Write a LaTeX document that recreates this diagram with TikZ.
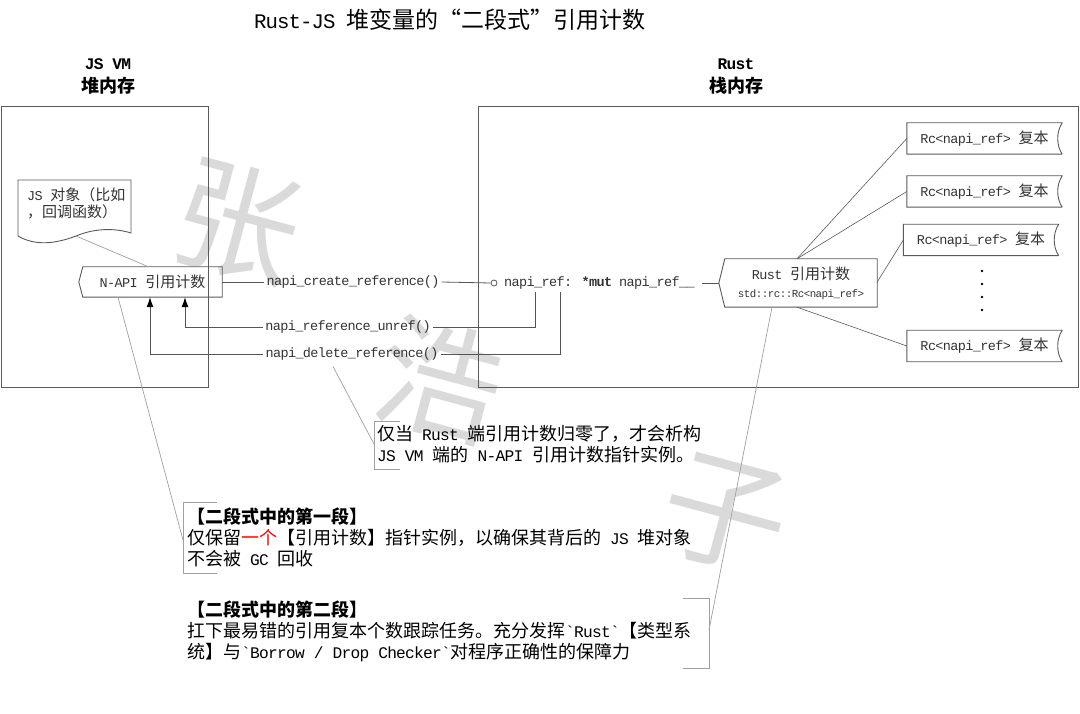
\documentclass[tikz,border=0pt]{standalone}
\usepackage{fontspec}
\usetikzlibrary{arrows.meta,calc}
\setmainfont{Liberation Mono}[Scale=0.9, LetterSpace=-4.5, Ligatures=TeXOff]
\newfontfamily\cjk{Noto Sans CJK SC}
\XeTeXinterchartokenstate=1
\newXeTeXintercharclass\CJKcls
\count255="4E00
\loop \XeTeXcharclass\count255=\CJKcls \ifnum\count255<"9FFF \advance\count255 by 1 \repeat
\count255="3000
\loop \XeTeXcharclass\count255=\CJKcls \ifnum\count255<"303F \advance\count255 by 1 \repeat
\count255="FF00
\loop \XeTeXcharclass\count255=\CJKcls \ifnum\count255<"FFEF \advance\count255 by 1 \repeat
\XeTeXcharclass"201C=\CJKcls
\XeTeXcharclass"201D=\CJKcls
\XeTeXinterchartoks 0 \CJKcls = {\cjk}
\XeTeXinterchartoks 4095 \CJKcls = {\cjk}
\XeTeXinterchartoks \CJKcls 0 = {\rmfamily}
\XeTeXinterchartoks \CJKcls 4095 = {\rmfamily}
\definecolor{boxc}{HTML}{5A5A5A}
\definecolor{linec}{HTML}{555555}
\definecolor{notec}{HTML}{A0A0A0}
\definecolor{txtc}{HTML}{333333}
\definecolor{wmc}{HTML}{DADADA}
\tikzset{
  box/.style={draw=boxc, line width=0.9pt},
  conn/.style={draw=linec, line width=0.8pt},
  arr/.style={conn, -{Latex[length=10pt,width=7pt,fill=black,color=black]}},
  notel/.style={draw=notec, line width=0.7pt},
  lbl/.style={font=\fontsize{15}{17}\selectfont, text=txtc, inner sep=0pt},
  note/.style={font=\fontsize{18}{21}\selectfont, align=left, inner sep=0pt, anchor=west, text=black},
  hdr/.style={font=\fontsize{18}{23}\selectfont\bfseries, align=center, text=black, inner sep=0pt},
  wm/.style={font=\fontsize{125}{125}\selectfont, text=wmc, inner sep=0pt},
}
\begin{document}
\begin{tikzpicture}[x=1pt,y=-1pt]
\useasboundingbox[fill=white] (0,0) rectangle (1080,714);
% watermark
\node[wm, rotate=-15] (wm1) at (238,222) {张};
\node[wm, rotate=-15] (wm2) at (440,380) {浩};
\node[wm, rotate=-15] (wm3) at (725,515) {子};
% title and headers
\node[font=\fontsize{23}{26}\selectfont, text=black, inner sep=0pt] (title) at (450,20) {Rust-JS 堆变量的“二段式”引用计数};
\node[hdr] (hjs) at (108,76) {JS VM\\堆内存};
\node[hdr] (hrust) at (736,76) {Rust\\栈内存};
% containers
\draw[box] (1,106) rectangle (208,387);
\draw[box] (478,106) rectangle (1078,387);
% JS object (document shape)
\draw[box, fill=white] (18,180) -- (131,180) -- (131,233) .. controls (115,228) and (95,228) .. (76,236) .. controls (55,244) and (35,246) .. (18,236) -- cycle;
\node[lbl, align=left, anchor=west, font=\fontsize{15}{17}\selectfont] (jsobj) at (27,203.5) {JS 对象（比如\\，回调函数）};
\coordinate (jsobjb) at (76,236);
% N-API node
\node[lbl, minimum width=139pt, minimum height=30pt] (napi) at (152.5,282) {N-API 引用计数};
\draw[box] (napi.north west) -- (napi.north east) -- (napi.south east) -- (napi.south west) -- ([xshift=-4pt]napi.west) -- cycle;
\draw[notel] (jsobjb) -- ([xshift=-4pt]napi.north);
% labels on connectors
\node[lbl] (lcreate) at (353,282) {napi\_create\_reference()};
\node[lbl] (lunref) at (348,327) {napi\_reference\_unref()};
\node[lbl] (ldelete) at (352,354) {napi\_delete\_reference()};
\node[circle, draw=linec, line width=0.8pt, inner sep=0pt, minimum size=6pt] (circ) at (494,283) {};
\node[lbl, anchor=west] (nref) at (504,283) {napi\_ref: \textbf{*mut} napi\_ref\_\_};
\coordinate (ua) at (535,292);
\coordinate (da) at (560,292);
\draw[conn] (napi.east) -- ([xshift=-2pt]lcreate.west);
\draw[conn] ([xshift=2pt]lcreate.east) -- (circ.west);
\draw[conn] (ua) |- ([xshift=2pt]lunref.east);
\draw[arr] ([xshift=-2pt]lunref.west) -| ([xshift=32.5pt]napi.south);
\draw[conn] (da) |- ([xshift=2pt]ldelete.east);
\draw[arr] ([xshift=-2pt]ldelete.west) -| ([xshift=-2.5pt]napi.south);
% Rust node
\node[lbl, minimum width=152pt, minimum height=48pt, align=center] (rust) at (801,283) {Rust 引用计数\\[1pt]{\fontsize{12}{14}\selectfont std::rc::Rc<napi\_ref>}};
\draw[box] (rust.north west) -- (rust.north east) -- (rust.south east) -- (rust.south west) -- ([xshift=-6pt]rust.west) -- cycle;
\draw[conn] ([xshift=7pt]nref.east) -- ([xshift=-6pt]rust.west);
% copies
\foreach \n/\cx/\cy in {c1/984.5/138.5, c2/984.5/191.5, c3/981/240, c4/984.5/346}{
  \node[lbl, minimum width=155pt, minimum height=31pt] (\n) at (\cx,\cy) {Rc<napi\_ref> 复本};
  \draw[box] (\n.south east) -- (\n.south west) -- (\n.north west) -- (\n.north east)
     .. controls ([xshift=-6pt,yshift=-9pt]\n.north east) and ([xshift=-6pt,yshift=9pt]\n.south east) .. (\n.south east);
}
\foreach \yy in {271,284,297,310} \fill[black] (982,\yy) circle (1.4pt);
\draw[conn, draw=boxc, line width=0.6pt] ([xshift=-4pt]rust.north) -- (c1.west);
\draw[conn, draw=boxc, line width=0.6pt] ([xshift=-4pt]rust.north) -- (c2.west);
\draw[conn, draw=boxc, line width=0.6pt] ([yshift=1pt]rust.east) -- (c3.west);
\draw[conn, draw=boxc, line width=0.6pt] ([xshift=-4pt]rust.south) -- (c4.west);
% note 1
\node[note] (n1) at (377,444.5) {仅当 Rust 端引用计数归零了，才会析构\\JS VM 端的 N-API 引用计数指针实例。};
\draw[notel] (400,421) -- (374,421) -- (374,469) -- (400,469);
\coordinate (n1b) at (374,444);
\draw[notel] ([xshift=-19pt,yshift=-6pt]ldelete.south) -- (n1b);
% note 2
\node[note] (n2) at (187,537.5) {\textbf{【二段式中的第一段】}\\仅保留\textcolor{red}{一个}【引用计数】指针实例，以确保其背后的 JS 堆对象\\不会被 GC 回收};
\draw[notel] (217,502) -- (183,502) -- (183,573) -- (217,573);
\coordinate (n2b) at (183,540);
\draw[notel] ([xshift=-34.5pt]napi.south) -- (n2b);
% note 3
\node[note] (n3) at (187,631) {\textbf{【二段式中的第二段】}\\扛下最易错的引用复本个数跟踪任务。充分发挥`Rust`【类型系\\统】与`Borrow / Drop Checker`对程序正确性的保障力};
\draw[notel] (683,598) -- (709,598) -- (709,668) -- (683,668);
\coordinate (n3b) at (709,630);
\draw[notel] ([xshift=-29pt]rust.south) -- (n3b);
\end{tikzpicture}
\end{document}
